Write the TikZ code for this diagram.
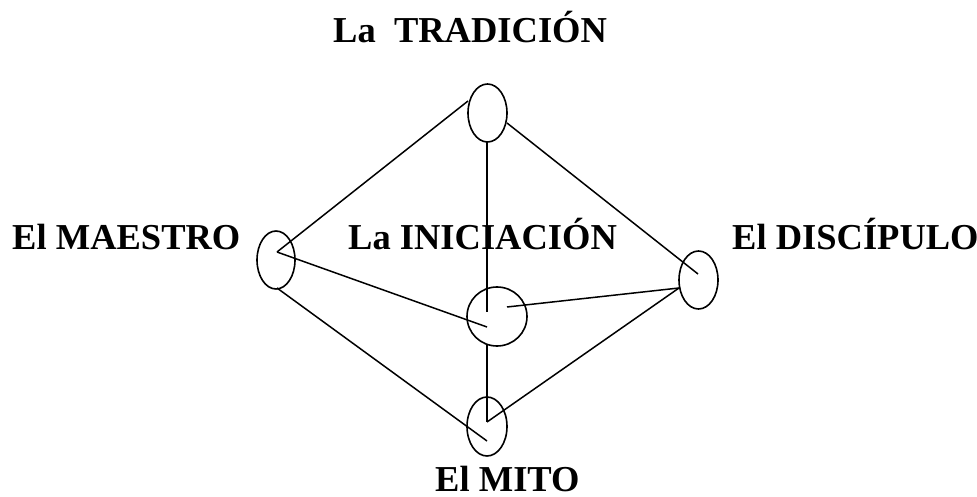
\documentclass[tikz,border=0pt]{standalone}
\usepackage{fontspec}
\setmainfont{Liberation Serif}
\usetikzlibrary{shapes.geometric}
\tikzset{
  ring/.style={draw, ellipse, line width=1.6pt, inner sep=0pt},
  link/.style={line width=1.5pt},
  lbl/.style={anchor=base west, inner sep=0pt, font=\fontsize{36.5}{40}\selectfont\bfseries}
}
\begin{document}
\begin{tikzpicture}[x=1pt,y=-1pt]
\useasboundingbox (0,0) rectangle (977,497);
% ellipses
\node[ring, minimum width=39pt, minimum height=58pt] (T) at (487.5,113) {};
\node[ring, minimum width=38pt, minimum height=58pt] (L) at (276,260) {};
\node[ring, minimum width=39pt, minimum height=58pt] (R) at (698.5,280) {};
\node[ring, minimum width=60pt, minimum height=59pt] (C) at (497,316.5) {};
\node[ring, minimum width=40pt, minimum height=59pt] (B) at (487,426.5) {};
% connector ends
\coordinate (t1) at (468,101);
\coordinate (t2) at (507,123);
\coordinate (t3) at (487,142);
\coordinate (l1) at (277,252);
\coordinate (l2) at (277,288);
\coordinate (r1) at (698,274);
\coordinate (r2) at (679,288);
\coordinate (c1) at (487,312);
\coordinate (c2) at (487,327);
\coordinate (c3) at (507,307);
\coordinate (c4) at (487,344);
\coordinate (b1) at (487,422);
\coordinate (b2) at (487,441);
% connectors
\draw[link] (t1) -- (l1);
\draw[link] (t2) -- (r1);
\draw[link] (t3) -- (c1);
\draw[link] (l1) -- (c2);
\draw[link] (c3) -- (r2);
\draw[link] (c4) -- (b1);
\draw[link] (l2) -- (b2);
\draw[link] (b1) -- (r2);
% labels
\node[lbl] (trad) at (333,43) {La\ \ TRADICIÓN};
\node[lbl] (maes) at (12,250) {El MAESTRO};
\node[lbl] (inic) at (348,249) {La INICIACIÓN};
\node[lbl] (disc) at (732,250) {El DISCÍPULO};
\node[lbl] (mito) at (435,491) {El MITO};
\end{tikzpicture}
\end{document}
